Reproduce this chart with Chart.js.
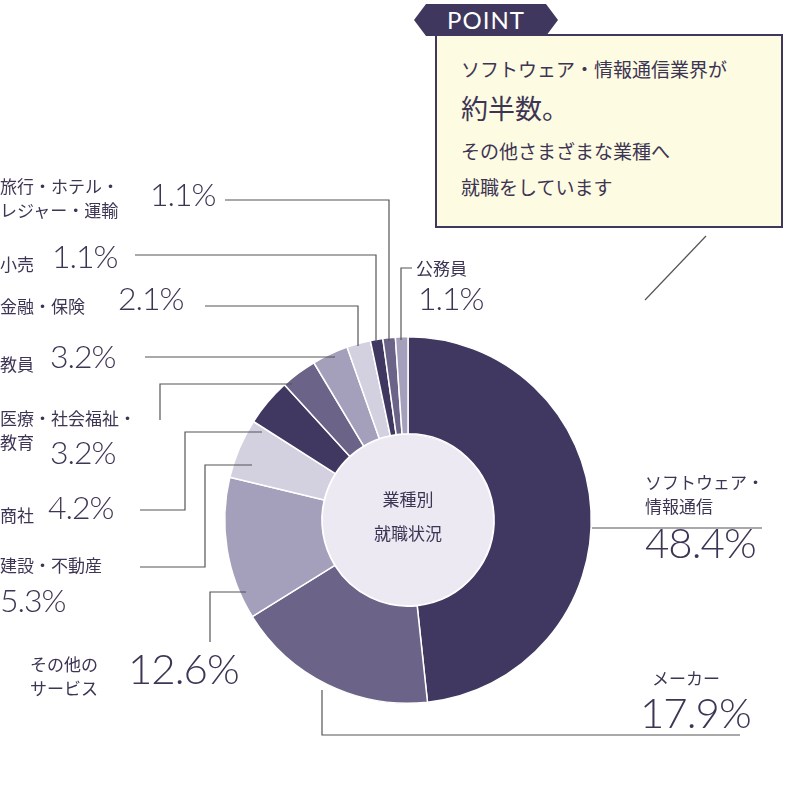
<!DOCTYPE html>
<html><head><meta charset="utf-8">
<script src="https://cdn.jsdelivr.net/npm/chart.js@4/dist/chart.umd.min.js"></script>
<style>
body{margin:0;background:#fff;font-family:"Noto Sans CJK JP","Noto Sans",sans-serif;color:#3d3554}
#wrap{position:relative;width:800px;height:792px;overflow:hidden}
canvas{position:absolute;left:0;top:0}
.l{position:absolute;font-size:17px;line-height:24px;white-space:nowrap}
.p{font-family:Lato,sans-serif;font-weight:300;font-size:32px;letter-spacing:-1px}
.big{font-size:42px}
#box{position:absolute;left:435px;top:34px;width:348px;height:194px;background:#fdfbe1;border:2px solid #40375e;box-sizing:border-box;padding:18px 0 0 24px}
#tab{position:absolute;left:414px;top:4px;width:144px;height:32px;background:#40375e;color:#fff;font-family:Lato,sans-serif;font-size:24px;line-height:32px;text-align:center;letter-spacing:1px;clip-path:polygon(12px 0,132px 0,144px 50%,132px 100%,12px 100%,0 50%)}
</style></head><body>
<div id="wrap">
<canvas id="c" width="800" height="792"></canvas>
<div id="tab">POINT</div>
<div id="box">
 <div style="font-size:19px;line-height:30px">ソフトウェア・情報通信業界が</div>
 <div style="font-size:27px;line-height:48px">約半数。</div>
 <div style="font-size:19px;line-height:38px">その他さまざまな業種へ</div>
 <div style="font-size:19px;line-height:34px">就職をしています</div>
</div>
<div class="l" style="left:0;top:174px">旅行・ホテル・<br>レジャー・運輸</div><div class="l p" style="left:150px;top:182px">1.1%</div>
<div class="l" style="left:0;top:252px">小売</div><div class="l p" style="left:52px;top:244px">1.1%</div>
<div class="l" style="left:0;top:294px">金融・保険</div><div class="l p" style="left:118px;top:286px">2.1%</div>
<div class="l" style="left:0;top:352px">教員</div><div class="l p" style="left:50px;top:344px">3.2%</div>
<div class="l" style="left:0;top:406px">医療・社会福祉・<br>教育</div><div class="l p" style="left:50px;top:440px">3.2%</div>
<div class="l" style="left:0;top:503px">商社</div><div class="l p" style="left:48px;top:495px">4.2%</div>
<div class="l" style="left:0;top:553px">建設・不動産</div><div class="l p" style="left:0;top:588px">5.3%</div>
<div class="l" style="left:30px;top:652px">その他の<br>サービス</div><div class="l p big" style="left:128px;top:656px">12.6%</div>
<div class="l" style="left:416px;top:256px">公務員</div><div class="l p" style="left:418px;top:286px">1.1%</div>
<div class="l" style="left:645px;top:470px">ソフトウェア・<br>情報通信</div><div class="l p big" style="left:645px;top:530px">48.4%</div>
<div class="l" style="left:652px;top:666px">メーカー</div><div class="l p big" style="left:640px;top:700px">17.9%</div>
</div>
<script>
const categories = ['ソフトウェア・情報通信','メーカー','その他のサービス','建設・不動産','商社','医療・社会福祉・教育','教員','金融・保険','小売','旅行・ホテル・レジャー・運輸','公務員'];
const shares = [48.4,17.9,12.6,5.3,4.2,3.2,3.2,2.1,1.1,1.1,1.1];
const sliceColors = ['#403860','#6b6388','#a49fba','#d3d0e0','#403860','#6b6388','#a49fba','#d3d0e0','#403860','#6b6388','#a49fba'];

// leader lines: [slice index, polyline from the slice edge outward]
const leaders = [
  [0, [[592,528],[762,528]]],
  [1, [[322,690],[322,735],[740,735]]],
  [2, [[246,592],[210,592],[210,642]]],
  [3, [[252,465],[205,465],[205,567],[140,567]]],
  [4, [[262,432],[185,432],[185,510],[140,510]]],
  [5, [[292,384],[160,384],[160,420]]],
  [6, [[335,357],[145,357]]],
  [7, [[358,346],[358,306],[205,306]]],
  [8, [[376,342],[376,255],[135,255]]],
  [9, [[389,341],[389,200],[225,200]]],
  [10,[[401,340],[401,268],[412,268]]],
];

const deco = {
  id: 'deco',
  afterDatasetsDraw(chart) {
    const ctx = chart.ctx;
    const arc = chart.getDatasetMeta(0).data[0];
    ctx.save();
    ctx.beginPath();
    ctx.arc(arc.x, arc.y, arc.innerRadius - 1, 0, Math.PI * 2);
    ctx.fillStyle = '#ece9f3';
    ctx.fill();
    ctx.fillStyle = '#3d3554';
    ctx.font = '17px "Noto Sans CJK JP"';
    ctx.textAlign = 'center';
    ctx.fillText('業種別', arc.x, arc.y - 14);
    ctx.fillText('就職状況', arc.x, arc.y + 20);
    ctx.strokeStyle = '#555';
    ctx.lineWidth = 1.2;
    leaders.forEach(([, pts]) => {
      ctx.beginPath();
      pts.forEach(([x, y], i) => (i ? ctx.lineTo(x, y) : ctx.moveTo(x, y)));
      ctx.stroke();
    });
    // callout tail
    ctx.beginPath();
    ctx.moveTo(645, 300);
    ctx.lineTo(706, 236);
    ctx.stroke();
    ctx.restore();
  },
};

new Chart(document.getElementById('c'), {
  type: 'doughnut',
  data: {
    labels: categories,
    datasets: [{ data: shares, backgroundColor: sliceColors, borderColor: '#fff', borderWidth: 1.5 }],
  },
  options: {
    responsive: false,
    animation: false,
    cutout: '47%',
    layout: { padding: { left: 224, right: 208, top: 336, bottom: 88 } },
    plugins: { legend: { display: false }, tooltip: { enabled: false } },
  },
  plugins: [deco],
});
</script>
</body></html>
